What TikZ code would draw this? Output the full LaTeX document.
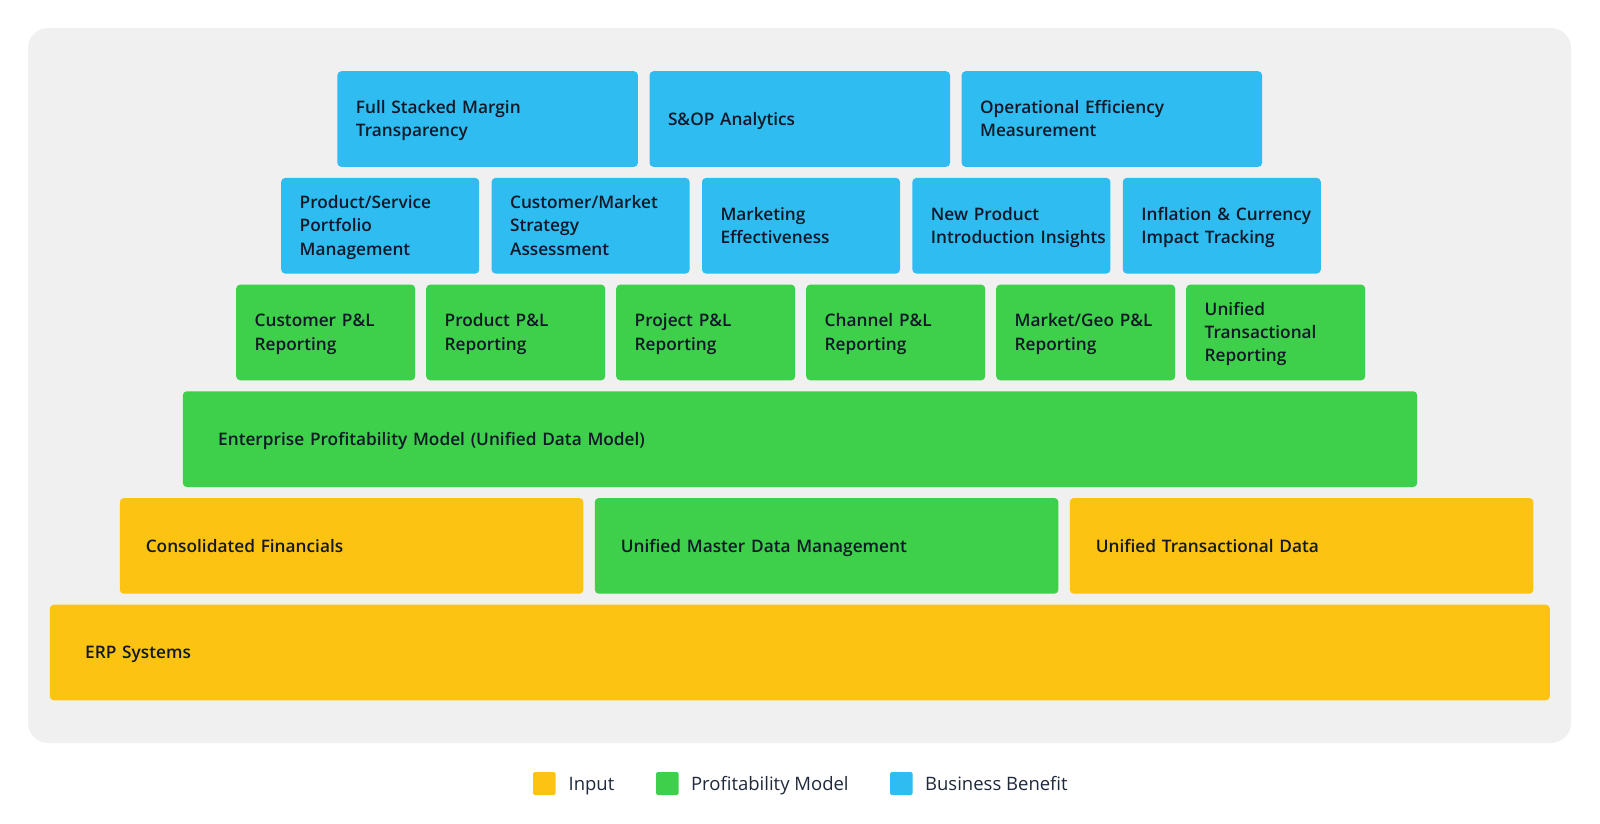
\documentclass[tikz,border=0pt]{standalone}
\usepackage{fontspec}
\IfFontExistsTF{Open Sans Semibold}
  {\setmainfont{Open Sans}[BoldFont={Open Sans Semibold}]}
  {\IfFontExistsTF{Open Sans SemiBold}
    {\setmainfont{Open Sans}[BoldFont={Open Sans SemiBold}]}
    {\setmainfont{Open Sans}}}
\usepackage{tikz}
\usetikzlibrary{positioning}
\hyphenpenalty=10000
\exhyphenpenalty=10000

\definecolor{inputc}{HTML}{FCC312}
\definecolor{modelc}{HTML}{3ECF4B}
\definecolor{benefitc}{HTML}{2FBDF1}
\definecolor{panelc}{HTML}{F0F0F0}
\definecolor{inkc}{HTML}{111827}
\definecolor{legendc}{HTML}{1E293B}

\begin{document}
\begin{tikzpicture}[x=1pt, y=-1pt,
  tile/.style={anchor=north west, rounded corners=4pt, minimum height=95.7pt,
    inner ysep=0pt, align=left, text=inkc, text height=12.3pt, text depth=0pt,
    font=\fontsize{17.25}{23.3}\selectfont\bfseries},
  two/.style={text depth=23.3pt},
  three/.style={text depth=46.6pt},
  benefit/.style={tile, fill=benefitc},
  model/.style={tile, fill=modelc},
  input/.style={tile, fill=inputc},
  wide/.style={inner xsep=18.5pt, text width=263.5pt},
  mid/.style={inner xsep=18.5pt, text width=161pt},
  narrow/.style={inner xsep=18.5pt, text width=142pt},
  band/.style={inner xsep=35.4pt, text width=1163.6pt},
  third/.style={inner xsep=26pt, text width=411.6pt},
  base/.style={inner xsep=35.4pt, text width=1429.2pt},
  key/.style={anchor=west, minimum width=22.5pt, minimum height=23pt, inner sep=0pt, rounded corners=1.5pt},
  keytext/.style={inner sep=0pt, text=legendc, font=\fontsize{18.5}{22}\selectfont}]
  \useasboundingbox (0,0) rectangle (1600,824);

  % Panel
  \fill[panelc, rounded corners=20pt] (28,28) rectangle (1571,743);

  % Business benefits (top row)
  \node[benefit, wide, two] (fsm) at (337.2,71) {Full Stacked Margin\\Transparency};
  \node[benefit, wide, right=11.2pt of fsm] (sop) {S\&OP Analytics};
  \node[benefit, wide, two, right=11.2pt of sop] (oem) {Operational Efficiency\\Measurement};

  % Business benefits (second row)
  \node[benefit, mid, three] (psp) at (281,177.7) {Product/Service\\Portfolio\\Management};
  \node[benefit, mid, three, right=12pt of psp] (cms) {Customer/Market\\Strategy\\Assessment};
  \node[benefit, mid, two, right=12pt of cms] (mkt) {Marketing\\Effectiveness};
  \node[benefit, mid, two, right=12pt of mkt] (npi) {New~Product\\Introduction~Insights};
  \node[benefit, mid, two, right=12pt of npi] (icx) {Inflation~\&~Currency\\Impact~Tracking};

  % P&L reporting
  \node[model, narrow, two] (cpl) at (236,284.4) {Customer~P\&L\\Reporting};
  \node[model, narrow, two, right=10.6pt of cpl] (ppl) {Product~P\&L\\Reporting};
  \node[model, narrow, two, right=10.6pt of ppl] (jpl) {Project~P\&L\\Reporting};
  \node[model, narrow, two, right=10.6pt of jpl] (chpl) {Channel~P\&L\\Reporting};
  \node[model, narrow, two, right=10.6pt of chpl] (gpl) {Market/Geo~P\&L\\Reporting};
  \node[model, narrow, three, right=10.6pt of gpl] (utr) {Unified\\Transactional\\Reporting};

  % Profitability model
  \node[model, band] (epm) at (182.6,391.1) {Enterprise Profitability Model (Unified Data Model)};

  % Inputs
  \node[input, third] (cf) at (119.6,497.8) {Consolidated Financials};
  \node[model, third, right=11pt of cf] (umd) {Unified Master Data Management};
  \node[input, third, right=11pt of umd] (utd) {Unified Transactional Data};
  \node[input, base] (erp) at (49.6,604.5) {ERP Systems};

  % Legend
  \node[key, fill=inputc] (kin) at (533,783.5) {};
  \node[keytext, right=12.5pt of kin, anchor=base west, yshift=-7.3pt] (kint) {Input};
  \node[key, fill=modelc] (kmod) at (656,783.5) {};
  \node[keytext, right=12pt of kmod, anchor=base west, yshift=-7.3pt] (kmodt) {Profitability Model};
  \node[key, fill=benefitc] (kben) at (890,783.5) {};
  \node[keytext, right=12pt of kben, anchor=base west, yshift=-7.3pt] (kbent) {Business Benefit};
\end{tikzpicture}
\end{document}
